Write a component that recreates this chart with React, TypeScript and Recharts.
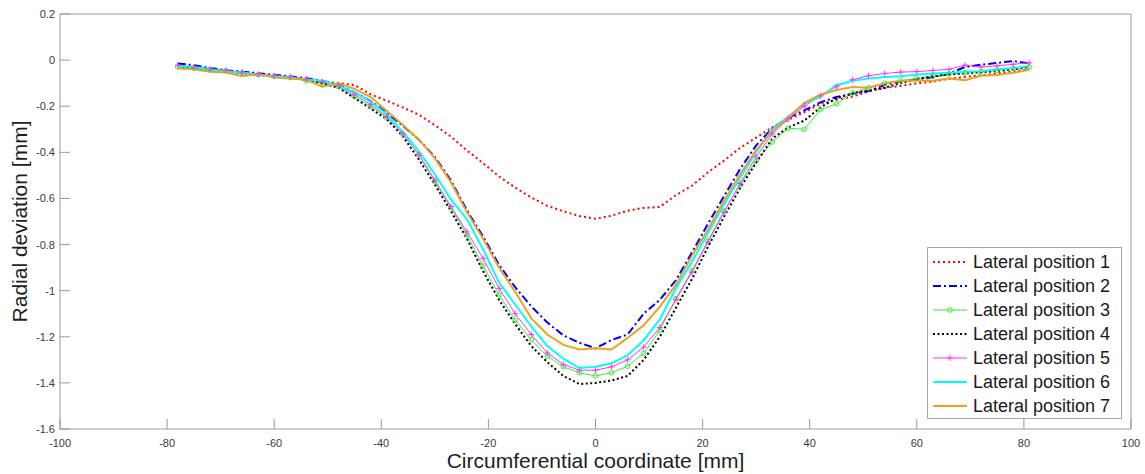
import React from "react";
import { LineChart, Line, XAxis, YAxis, Legend } from "recharts";

// circumferential coordinate [mm]
const coords = [
  -78, -75, -72, -69, -66, -63, -60, -57, -54, -51, -48, -45, -42, -39, -36, -33, -30, -27,
  -24, -21, -18, -15, -12, -9, -6, -3, 0, 3, 6, 9, 12, 15, 18, 21, 24, 27,
  30, 33, 36, 39, 42, 45, 48, 51, 54, 57, 60, 63, 66, 69, 72, 75, 78, 81,
];

// radial deviation [mm], one list per lateral position
const lateral1 = [
  -0.025, -0.03, -0.04, -0.048, -0.055, -0.062, -0.07, -0.074, -0.085, -0.092, -0.1, -0.108, -0.148, -0.176, -0.205, -0.237, -0.282, -0.332,
  -0.392, -0.447, -0.505, -0.553, -0.596, -0.632, -0.656, -0.676, -0.688, -0.675, -0.653, -0.641, -0.637, -0.586, -0.545, -0.487, -0.436, -0.381,
  -0.336, -0.292, -0.259, -0.226, -0.19, -0.172, -0.158, -0.136, -0.121, -0.112, -0.101, -0.093, -0.081, -0.073, -0.066, -0.058, -0.049, -0.04,
];
const lateral2 = [
  -0.015, -0.022, -0.034, -0.044, -0.05, -0.057, -0.064, -0.07, -0.079, -0.09, -0.106, -0.14, -0.178, -0.228, -0.284, -0.345, -0.42, -0.522,
  -0.652, -0.765, -0.888, -0.985, -1.068, -1.138, -1.194, -1.226, -1.25, -1.214, -1.19, -1.1, -1.04, -0.955, -0.835, -0.71, -0.59, -0.472,
  -0.37, -0.296, -0.25, -0.218, -0.183, -0.16, -0.146, -0.134, -0.108, -0.092, -0.084, -0.074, -0.058, -0.03, -0.02, -0.012, -0.004, -0.015,
];
const lateral3 = [
  -0.03, -0.035, -0.04, -0.046, -0.055, -0.064, -0.07, -0.076, -0.09, -0.1, -0.116, -0.158, -0.2, -0.25, -0.32, -0.41, -0.528, -0.64,
  -0.758, -0.893, -1.018, -1.128, -1.213, -1.284, -1.33, -1.356, -1.37, -1.356, -1.328, -1.272, -1.172, -1.035, -0.914, -0.784, -0.655, -0.54,
  -0.438, -0.355, -0.295, -0.3, -0.215, -0.19, -0.142, -0.12, -0.1, -0.09, -0.08, -0.07, -0.06, -0.055, -0.05, -0.044, -0.035, -0.03,
];
const lateral4 = [
  -0.025, -0.034, -0.04, -0.05, -0.056, -0.065, -0.07, -0.076, -0.086, -0.1, -0.12, -0.165, -0.21, -0.256, -0.33, -0.43, -0.54, -0.655,
  -0.775, -0.915, -1.04, -1.145, -1.24, -1.31, -1.37, -1.405, -1.4, -1.39, -1.37, -1.3, -1.2, -1.075, -0.95, -0.81, -0.68, -0.555,
  -0.445, -0.34, -0.292, -0.262, -0.205, -0.165, -0.145, -0.13, -0.12, -0.1, -0.082, -0.07, -0.062, -0.058, -0.052, -0.048, -0.04, -0.03,
];
const lateral5 = [
  -0.022, -0.03, -0.04, -0.045, -0.052, -0.06, -0.068, -0.072, -0.082, -0.094, -0.112, -0.15, -0.192, -0.245, -0.32, -0.41, -0.52, -0.635,
  -0.745, -0.86, -0.99, -1.1, -1.19, -1.27, -1.32, -1.345, -1.345, -1.33, -1.3, -1.245, -1.16, -1.04, -0.92, -0.79, -0.66, -0.535,
  -0.42, -0.32, -0.255, -0.2, -0.155, -0.115, -0.085, -0.068, -0.058, -0.052, -0.05, -0.045, -0.04, -0.022, -0.03, -0.025, -0.018, -0.012,
];
const lateral6 = [
  -0.026, -0.03, -0.04, -0.05, -0.055, -0.064, -0.07, -0.075, -0.084, -0.09, -0.11, -0.14, -0.18, -0.235, -0.31, -0.395, -0.495, -0.605,
  -0.69, -0.82, -0.965, -1.06, -1.155, -1.24, -1.295, -1.335, -1.33, -1.315, -1.28, -1.215, -1.125, -0.99, -0.875, -0.75, -0.625, -0.51,
  -0.4, -0.3, -0.245, -0.19, -0.16, -0.108, -0.09, -0.08, -0.073, -0.07, -0.062, -0.058, -0.055, -0.05, -0.048, -0.04, -0.035, -0.025,
];
const lateral7 = [
  -0.036, -0.04, -0.05, -0.054, -0.07, -0.06, -0.075, -0.08, -0.085, -0.115, -0.1, -0.125, -0.16, -0.22, -0.28, -0.345, -0.425, -0.53,
  -0.66, -0.775, -0.9, -1.005, -1.12, -1.19, -1.235, -1.255, -1.25, -1.255, -1.205, -1.15, -1.07, -0.975, -0.85, -0.735, -0.61, -0.495,
  -0.39, -0.31, -0.25, -0.185, -0.15, -0.13, -0.117, -0.12, -0.1, -0.09, -0.088, -0.09, -0.08, -0.087, -0.068, -0.065, -0.055, -0.042,
];

const xTicks = [-100, -80, -60, -40, -20, 0, 20, 40, 60, 80, 100];
const yTicks = [0.2, 0, -0.2, -0.4, -0.6, -0.8, -1, -1.2, -1.4, -1.6];

const FONT = '"Liberation Sans", Arial, Helvetica, sans-serif';
const AXIS = "#9a9a9a";
const TICK_TEXT = "#3a3a3a";

const SERIES = [
  { key: "p1", name: "Lateral position 1", values: lateral1, color: "#ff0000", width: 2, dash: "2 3", marker: "" },
  { key: "p2", name: "Lateral position 2", values: lateral2, color: "#0000ff", width: 2, dash: "8 3 2 3", marker: "" },
  { key: "p3", name: "Lateral position 3", values: lateral3, color: "#33ee33", width: 1, dash: "", marker: "circle" },
  { key: "p4", name: "Lateral position 4", values: lateral4, color: "#000000", width: 2, dash: "2 2.5", marker: "" },
  { key: "p5", name: "Lateral position 5", values: lateral5, color: "#ff33ff", width: 1, dash: "", marker: "plus" },
  { key: "p6", name: "Lateral position 6", values: lateral6, color: "#00ffff", width: 2, dash: "", marker: "" },
  { key: "p7", name: "Lateral position 7", values: lateral7, color: "#eba21f", width: 2, dash: "", marker: "" },
];

const data = coords.map((x, i) => {
  const row: Record<string, number> = { x };
  SERIES.forEach((s) => {
    row[s.key] = s.values[i];
  });
  return row;
});

const fmtY = (v: number) => (Math.abs(v) < 1e-9 ? "0" : String(Number(v.toFixed(1))));

// bottom and left: tick mark points inward, label outside
function BottomTick(props: any) {
  const { x, y, payload } = props;
  return (
    <g>
      <line x1={x} x2={x} y1={y} y2={y - 10} stroke={AXIS} strokeWidth={1} />
      <text x={x} y={y + 18} textAnchor="middle" fontSize={11} fontFamily={FONT} fill={TICK_TEXT}>
        {payload.value}
      </text>
    </g>
  );
}

function LeftTick(props: any) {
  const { x, y, payload } = props;
  return (
    <g>
      <line x1={x} x2={x + 10} y1={y} y2={y} stroke={AXIS} strokeWidth={1} />
      <text x={x - 5} y={y + 4} textAnchor="end" fontSize={11} fontFamily={FONT} fill={TICK_TEXT}>
        {fmtY(payload.value)}
      </text>
    </g>
  );
}

function CircleDot(props: any) {
  const { cx, cy, index } = props;
  if (cx == null || cy == null) return <g key={index} />;
  return <circle key={index} cx={cx} cy={cy} r={2.3} fill="none" stroke="#33ee33" strokeWidth={1} />;
}

function PlusDot(props: any) {
  const { cx, cy, index } = props;
  if (cx == null || cy == null) return <g key={index} />;
  return (
    <path key={index} d={`M${cx - 3},${cy}H${cx + 3}M${cx},${cy - 3}V${cy + 3}`} stroke="#ff33ff" strokeWidth={1} />
  );
}

function LegendBox() {
  return (
    <div
      style={{
        width: 195,
        height: 172,
        boxSizing: "border-box",
        border: "1px solid #a8a8a8",
        background: "#fff",
        paddingTop: 2,
        fontFamily: FONT,
      }}
    >
      {SERIES.map((s) => (
        <div key={s.key} style={{ display: "flex", alignItems: "center", height: 24 }}>
          <svg width={36} height={12} style={{ marginLeft: 4 }}>
            <line
              x1={1}
              x2={35}
              y1={6}
              y2={6}
              stroke={s.color}
              strokeWidth={s.width}
              strokeDasharray={s.dash || undefined}
            />
            {s.marker === "circle" && <circle cx={18} cy={6} r={2.3} fill="none" stroke={s.color} />}
            {s.marker === "plus" && <path d="M15,6H21M18,3V9" stroke={s.color} />}
          </svg>
          <span style={{ fontSize: 18, color: "#1a1a1a", marginLeft: 5, lineHeight: "24px" }}>{s.name}</span>
        </div>
      ))}
    </div>
  );
}

export default function App() {
  return (
    <div style={{ position: "absolute", left: 0, top: 0, background: "#fff" }}>
      <LineChart width={1145} height={474} data={data} margin={{ top: 14, right: 14, left: 0, bottom: 0 }}>
        <XAxis
          dataKey="x"
          type="number"
          domain={[-100, 100]}
          ticks={xTicks}
          interval={0}
          allowDataOverflow
          height={45}
          tickSize={0}
          tickMargin={0}
          tickLine={false}
          axisLine={{ stroke: AXIS }}
          tick={<BottomTick />}
          label={{
            content: (p: any) => {
              const vb = p.viewBox || { x: 60, y: 429, width: 1070, height: 45 };
              return (
                <text x={vb.x + vb.width / 2} y={vb.y + 39} textAnchor="middle" fontSize={21} fontFamily={FONT} fill="#1e1e1e">
                  Circumferential coordinate [mm]
                </text>
              );
            },
          }}
        />
        {/* box top edge with inward ticks */}
        <XAxis
          xAxisId="top"
          orientation="top"
          dataKey="x"
          type="number"
          domain={[-100, 100]}
          ticks={xTicks}
          interval={0}
          allowDataOverflow
          height={1}
          mirror
          tickSize={10}
          tickLine={{ stroke: AXIS }}
          axisLine={{ stroke: AXIS }}
          tick={false}
        />
        <YAxis
          type="number"
          domain={[-1.6, 0.2]}
          ticks={yTicks}
          interval={0}
          allowDataOverflow
          width={60}
          tickSize={0}
          tickMargin={0}
          tickLine={false}
          axisLine={{ stroke: AXIS }}
          tick={<LeftTick />}
          label={{
            content: (p: any) => {
              const vb = p.viewBox || { x: 0, y: 15, width: 60, height: 414 };
              const cx = vb.x + 27;
              const cy = vb.y + vb.height / 2;
              return (
                <text
                  x={cx}
                  y={cy}
                  transform={`rotate(-90 ${cx} ${cy})`}
                  textAnchor="middle"
                  fontSize={21}
                  fontFamily={FONT}
                  fill="#1e1e1e"
                >
                  Radial deviation [mm]
                </text>
              );
            },
          }}
        />
        {/* box right edge with inward ticks */}
        <YAxis
          yAxisId="right"
          orientation="right"
          type="number"
          domain={[-1.6, 0.2]}
          ticks={yTicks}
          interval={0}
          allowDataOverflow
          width={1}
          mirror
          tickSize={10}
          tickLine={{ stroke: AXIS }}
          axisLine={{ stroke: AXIS }}
          tick={false}
        />
        <Legend
          layout="vertical"
          align="center"
          verticalAlign="middle"
          wrapperStyle={{ left: 927, top: 247, width: 195, height: 172 }}
          content={() => <LegendBox />}
        />
        {SERIES.map((s) => (
          <Line
            key={s.key}
            dataKey={s.key}
            name={s.name}
            type="linear"
            stroke={s.color}
            strokeWidth={s.width}
            strokeDasharray={s.dash || undefined}
            dot={s.marker === "circle" ? <CircleDot /> : s.marker === "plus" ? <PlusDot /> : false}
            activeDot={false}
            isAnimationActive={false}
          />
        ))}
      </LineChart>
    </div>
  );
}
